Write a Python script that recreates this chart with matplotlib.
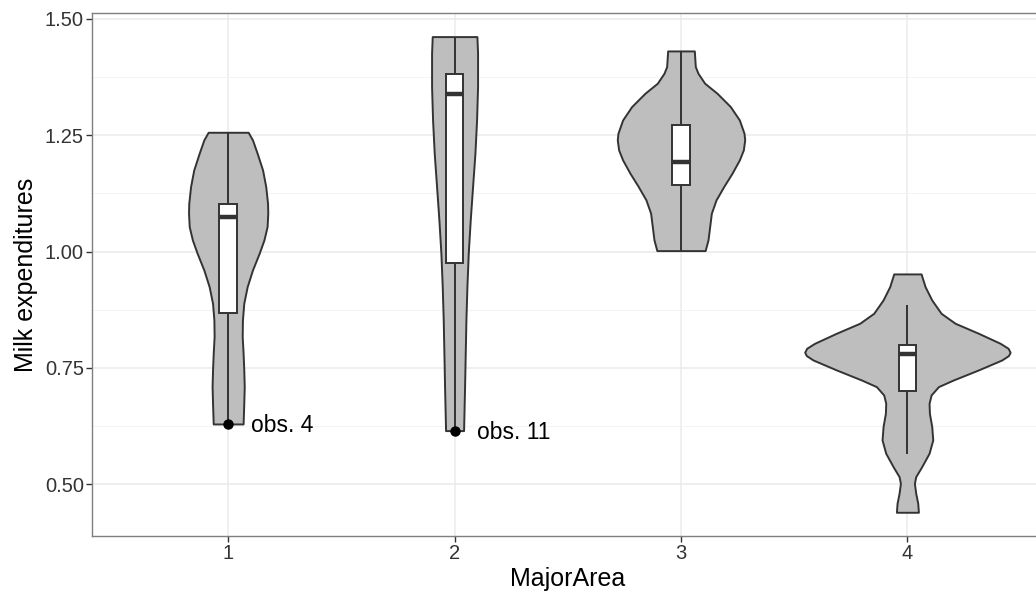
import numpy as np
import matplotlib.pyplot as plt
from matplotlib.patches import Rectangle

plt.rcParams['font.family'] = ['Liberation Sans', 'DejaVu Sans']

# violin outlines: expenditure level and half-width (x units) for each MajorArea
area1_level = [0.6296, 0.674, 0.7098, 0.7457, 0.7815, 0.8173, 0.8531, 0.8889, 0.9247,
               0.9606, 0.9964, 1.025, 1.0537, 1.0823, 1.1038, 1.1397, 1.1755, 1.2113,
               1.24, 1.2564]
area1_width = [0.066, 0.069, 0.071, 0.069, 0.066, 0.062, 0.063, 0.069, 0.084,
               0.1075, 0.137, 0.158, 0.172, 0.175, 0.174, 0.166, 0.152, 0.128,
               0.1075, 0.0884]

area2_level = [0.6153, 0.7098, 0.7815, 0.8531, 0.9247, 0.9964, 1.068, 1.1397, 1.2113,
               1.2829, 1.3546, 1.4262, 1.462]
area2_width = [0.0398, 0.0442, 0.0471, 0.0501, 0.0545, 0.0604, 0.0692, 0.0795, 0.0899,
               0.0972, 0.1016, 0.1016, 0.0987]

area3_level = [1.0021, 1.025, 1.0537, 1.0824, 1.111, 1.1397, 1.1684, 1.197, 1.2185,
               1.24, 1.2543, 1.2829, 1.3116, 1.3403, 1.3618, 1.3832, 1.3976, 1.4312]
area3_width = [0.1066, 0.1193, 0.1267, 0.1341, 0.1547, 0.1886, 0.2254, 0.2578, 0.2754,
               0.2814, 0.2784, 0.2578, 0.218, 0.1591, 0.1046, 0.0751, 0.0633, 0.0589]

area4_level = [0.4398, 0.4591, 0.4806, 0.5021, 0.5164, 0.5379, 0.5666, 0.5952, 0.6239,
               0.6525, 0.674, 0.6919, 0.7098, 0.7242, 0.7457, 0.7671, 0.7765, 0.7836,
               0.7922, 0.803, 0.8245, 0.846, 0.8674, 0.8961, 0.9247, 0.952]
area4_width = [0.0486, 0.0457, 0.0368, 0.0309, 0.0368, 0.0633, 0.0957, 0.112, 0.1075,
               0.0972, 0.0957, 0.1046, 0.137, 0.2033, 0.3137, 0.4168, 0.4463, 0.4537,
               0.4449, 0.4095, 0.3137, 0.2106, 0.1488, 0.1075, 0.0781, 0.0604]

areas = [1, 2, 3, 4]
levels = [area1_level, area2_level, area3_level, area4_level]
widths = [area1_width, area2_width, area3_width, area4_width]

# boxplot statistics per area
whisk_lo = [0.6296, 0.6153, 1.0021, 0.565]
q1 = [0.8675, 0.975, 1.1432, 0.7012]
median = [1.0751, 1.339, 1.1933, 0.780]
q3 = [1.1024, 1.381, 1.2722, 0.7994]
whisk_hi = [1.2564, 1.462, 1.4312, 0.8853]

# labelled observations
obs_area = [1, 2]
obs_value = [0.6296, 0.6153]
obs_label = ['obs. 4', 'obs. 11']

fig = plt.figure(figsize=(10.36, 5.95), dpi=100)
ax = fig.add_axes([0.0891, 0.0997, 0.9179, 0.8779])

edge = '#333333'
box_w = 0.077

for x, lv, hw in zip(areas, levels, widths):
    lv = np.array(lv)
    hw = np.array(hw)
    ax.fill_betweenx(lv, x - hw, x + hw, facecolor='#BEBEBE', edgecolor=edge,
                     linewidth=1.4, zorder=2)

for i, x in enumerate(areas):
    ax.vlines(x, whisk_lo[i], q1[i], color=edge, linewidth=1.4, zorder=3)
    ax.vlines(x, q3[i], whisk_hi[i], color=edge, linewidth=1.4, zorder=3)
    ax.add_patch(Rectangle((x - box_w / 2, q1[i]), box_w, q3[i] - q1[i],
                           facecolor='white', edgecolor=edge, linewidth=1.4, zorder=4))
    ax.hlines(median[i], x - box_w / 2, x + box_w / 2, color=edge, linewidth=3.2, zorder=5)

ax.plot(obs_area, obs_value, 'o', color='black', markersize=6.5, zorder=6)
for x, v, s in zip(obs_area, obs_value, obs_label):
    ax.text(x + 0.1, v - 0.004, s, ha='left', va='center', fontsize=16.5,
            color='black', zorder=6)

ax.set_xlim(0.4, 4.6)
ax.set_ylim(0.3895, 1.512)
ax.set_xticks(areas)
ax.set_xticklabels([str(a) for a in areas])
ax.set_yticks([0.50, 0.75, 1.00, 1.25, 1.50])
ax.set_yticklabels(['0.50', '0.75', '1.00', '1.25', '1.50'])
ax.set_yticks([0.625, 0.875, 1.125, 1.375], minor=True)

ax.grid(True, which='major', color='#EBEBEB', linewidth=1.1, zorder=0)
ax.grid(True, which='minor', axis='y', color='#F2F2F2', linewidth=0.6, zorder=0)
ax.set_axisbelow(True)

for sp in ax.spines.values():
    sp.set_color('#7F7F7F')
    sp.set_linewidth(1.0)

ax.tick_params(axis='both', which='major', length=4, width=1, color='#333333',
               labelsize=14.5, labelcolor='#333333', pad=2)
ax.tick_params(axis='y', which='minor', length=0)

ax.set_xlabel('MajorArea', fontsize=18, color='black', labelpad=3)
ax.set_ylabel('Milk expenditures', fontsize=18, color='black', labelpad=5)

fig.savefig('out.png', dpi=100)
